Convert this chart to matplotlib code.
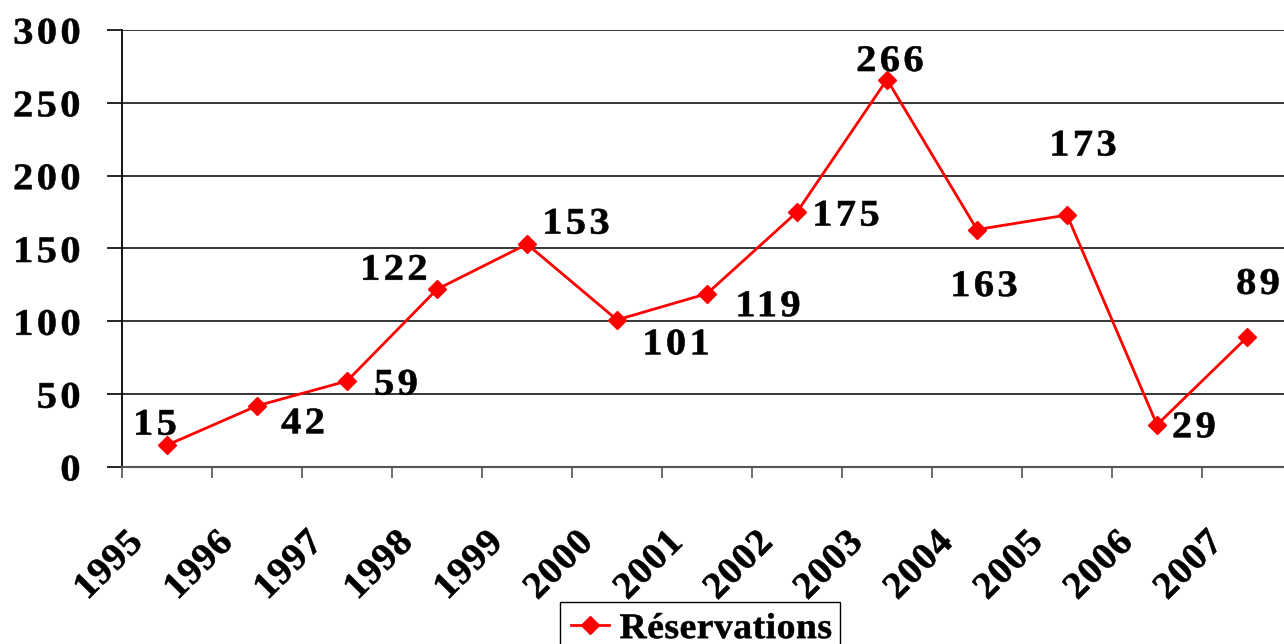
import matplotlib
matplotlib.use("Agg")
import matplotlib.pyplot as plt
import numpy as np
from matplotlib.patheffects import AbstractPathEffect
from matplotlib.path import Path
from matplotlib.patches import Rectangle
from matplotlib.transforms import ScaledTranslation

years = ["1995", "1996", "1997", "1998", "1999", "2000", "2001",
         "2002", "2003", "2004", "2005", "2006", "2007"]
reservations = [15, 42, 59, 122, 153, 101, 119, 175, 266, 163, 173, 29, 89]
yticks = [0, 50, 100, 150, 200, 250, 300]
series_name = "Réservations"

# label offsets (pixels) relative to each point, as in the reference
label_dx = [-12, 46, 49, -43, 49, 59, 61, 49, 3, 7, 16, 37, 11]
label_dy = [20, -18, -4, 19, 20, -25, -13, -4, 18, -57, 69, -3, 53]


class WideText(AbstractPathEffect):
    """Stretch glyphs horizontally, add letter spacing (font units, 1 em = 100)
    and a thin outline to make the strokes heavier."""

    def __init__(self, stretch=1.0, spacing=0.0, align='center', stroke=0.0):
        super().__init__()
        self.stretch = stretch
        self.spacing = spacing
        self.align = align
        self.stroke = stroke

    def draw_path(self, renderer, gc, tpath, affine, rgbFace=None):
        codes = tpath.codes
        verts = np.array(tpath.vertices, dtype=float)
        if codes is None or len(verts) == 0:
            renderer.draw_path(gc, tpath, affine, rgbFace)
            return
        starts = np.where(codes == Path.MOVETO)[0]
        ends = list(starts[1:]) + [len(verts)]
        subs = []
        allx = []
        for s, e in zip(starts, ends):
            m = codes[s:e] != Path.CLOSEPOLY
            xs = verts[s:e, 0][m]
            subs.append((s, e, xs.min(), xs.max()))
            allx.append(xs)
        allx = np.concatenate(allx)
        xmin, xmax = allx.min(), allx.max()
        order = sorted(range(len(subs)), key=lambda i: subs[i][2])
        gid = {}
        g = -1
        cur_max = -np.inf
        for i in order:
            s, e, x0, x1 = subs[i]
            if x0 > cur_max - 0.5:
                g += 1
                cur_max = x1
            else:
                cur_max = max(cur_max, x1)
            gid[i] = g
        n = g + 1
        total = (n - 1) * self.spacing
        if self.align == 'left':
            ref, shift0 = xmin, 0.0
        elif self.align == 'right':
            ref, shift0 = xmax, -total
        else:
            ref, shift0 = 0.5 * (xmin + xmax), -total / 2
        verts[:, 0] = ref + (verts[:, 0] - ref) * self.stretch
        for i, (s, e, _, _) in enumerate(subs):
            verts[s:e, 0] += gid[i] * self.spacing + shift0
        newpath = Path(verts, codes)
        if self.stroke > 0:
            gc0 = renderer.new_gc()
            gc0.copy_properties(gc)
            gc0.set_linewidth(self.stroke)
            gc0.set_joinstyle('round')
            if rgbFace is not None:
                gc0.set_foreground(rgbFace)
            renderer.draw_path(gc0, newpath, affine, rgbFace)
            gc0.restore()
        else:
            renderer.draw_path(gc, newpath, affine, rgbFace)


plt.rcParams['font.family'] = ['Liberation Serif', 'DejaVu Serif']
plt.rcParams['font.weight'] = 'bold'

FS = 27
ST = 1.08
SP = 9
SK = 0.4

fig = plt.figure(figsize=(12.84, 6.44), dpi=100)
ax = fig.add_axes([122/1284, 1-467/644, 1170/1284, 437/644])

x = np.arange(len(years))
red = '#ff0000'
line, = ax.plot(x, reservations, color=red, lw=2.0, marker='D', ms=9,
                markeredgecolor=red, markerfacecolor=red, label=series_name,
                zorder=3, clip_on=False)

for xi, v, dx, dy in zip(x, reservations, label_dx, label_dy):
    t = ax.annotate(str(v), (xi, v), xytext=(dx, dy), textcoords='offset pixels',
                    ha='center', va='center', fontsize=FS, fontweight='bold',
                    color='black', zorder=4, annotation_clip=False)
    t.set_path_effects([WideText(ST, SP, 'center', SK)])

ax.set_xlim(-0.5, len(years) - 0.5)
ax.set_ylim(0, 300)
ax.set_yticks(yticks)
ax.set_yticklabels([str(t) for t in yticks])
ax.tick_params(axis='y', direction='out', length=11, width=1.2, pad=19,
               labelsize=FS, colors='black')
for lab in ax.get_yticklabels():
    lab.set_fontweight('bold')
    lab.set_path_effects([WideText(ST, SP, 'right', SK)])
ax.yaxis.grid(True, color='black', lw=1.1)
ax.set_axisbelow(True)

ax.set_xticks(np.arange(len(years) + 1) - 0.5)
ax.set_xticklabels([])
ax.tick_params(axis='x', which='major', direction='out', length=8, width=1.2,
               color='#555555')

# rotated year labels: baseline end sits left of / below each category centre
xtrans = ax.get_xaxis_transform() + ScaledTranslation(-23/100, -77/100,
                                                       fig.dpi_scale_trans)
for xi, yr in zip(x, years):
    t = ax.text(xi, 0, yr, transform=xtrans, rotation=45, rotation_mode='anchor',
                ha='right', va='baseline', fontsize=FS, fontweight='bold',
                color='black')
    t.set_path_effects([WideText(1.04, 2, 'right', SK)])

for s in ['top', 'right']:
    ax.spines[s].set_visible(False)
ax.spines['left'].set_linewidth(1.3)
ax.spines['bottom'].set_linewidth(1.5)
ax.spines['bottom'].set_color('#555555')

leg = fig.legend(handles=[line], loc='upper left',
                 bbox_to_anchor=(560/1284, 1-602/644), borderaxespad=0,
                 frameon=False, handlelength=1.05, borderpad=0.3,
                 handletextpad=0.3, prop={'weight': 'bold', 'size': 26})
for txt in leg.get_texts():
    txt.set_path_effects([WideText(1.04, 1.5, 'left', SK)])
fig.patches.append(Rectangle((560/1284, -0.05), 280/1284, 0.05 + 1 - 602/644,
                             transform=fig.transFigure, fill=False,
                             edgecolor='black', lw=1.0))

fig.savefig("out.png", dpi=100)
